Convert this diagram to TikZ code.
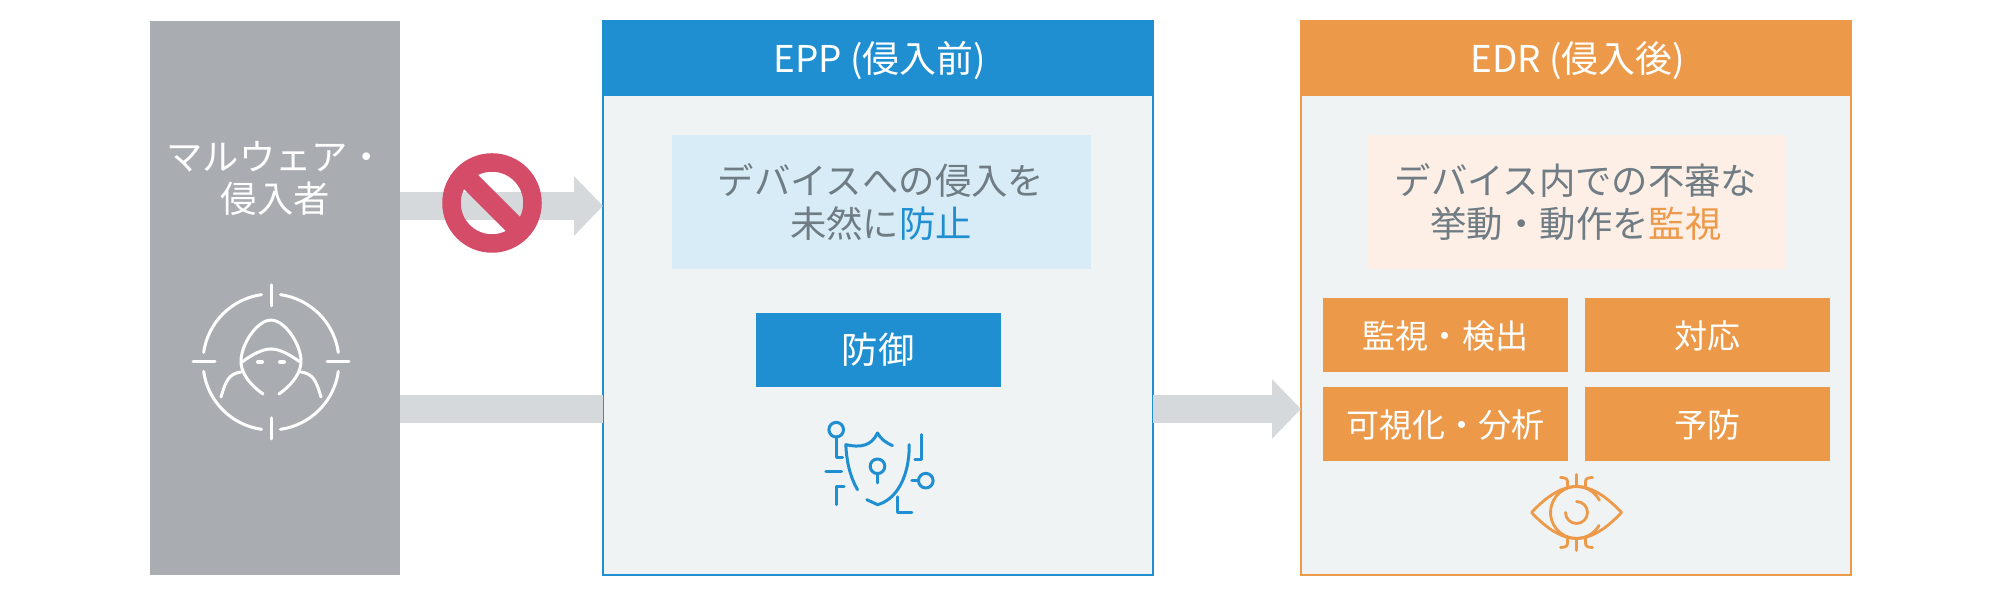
\documentclass[tikz,border=0pt]{standalone}
\usepackage{fontspec}
\setmainfont{Noto Sans CJK JP}
\usetikzlibrary{arrows.meta}
\definecolor{eppblue}{HTML}{1F8FD2}
\definecolor{edrorange}{HTML}{EC9A4A}
\definecolor{intrudergray}{HTML}{A9ACB1}
\definecolor{panelfill}{HTML}{EFF3F4}
\definecolor{flowgray}{HTML}{D6D9DC}
\definecolor{stopred}{HTML}{D54C69}
\definecolor{eppnote}{HTML}{D8ECF7}
\definecolor{edrnote}{HTML}{FDEFE6}
\definecolor{notetext}{HTML}{6F7C84}
\tikzset{
	bodytext/.style={font={\fontsize{10.35pt}{12.2pt}\selectfont\lineskiplimit=-10pt\relax}, align=center, inner sep=0pt, outer sep=0pt},
	mainbox/.style={draw=#1, fill=panelfill, line width=0.02cm, minimum width=5.5cm, minimum height=5.54cm, inner sep=0pt, outer sep=0pt},
	headbox/.style={fill=#1, text=white, bodytext, font=\fontsize{10.5pt}{12pt}\selectfont, text height=0.36cm, text depth=0.08cm, minimum width=5.52cm, minimum height=0.75cm},
	notebox/.style={fill=#1, text=notetext, bodytext, minimum width=4.19cm, minimum height=1.34cm},
	actbox/.style={fill=#1, text=white, bodytext, text height=0.34cm, text depth=0.07cm, minimum width=2.45cm, minimum height=0.74cm},
	smallact/.style={actbox=#1, font=\fontsize{9.4pt}{12pt}\selectfont},
	flowarrow/.style={draw=flowgray, line width=0.28cm, -{Triangle[length=0.29cm, width=0.58cm]}},
	flowbar/.style={draw=flowgray, line width=0.28cm},
	iconline/.style={line width=0.03cm, line cap=round, line join=round}
}
\begin{document}
\begin{tikzpicture}
	\useasboundingbox (0,0) rectangle (20,5.96);
	\coordinate (flowtop) at (0,3.90);
	\coordinate (flowlow) at (0,1.87);

	% panels
	\node[fill=intrudergray, minimum width=2.5cm, minimum height=5.54cm, outer sep=0pt] (intruder) at (2.75,2.975) {};
	\node[mainbox=eppblue] (eppbox) at (8.78,2.975) {};
	\node[mainbox=edrorange] (edrbox) at (15.76,2.975) {};

	% arrows
	\draw[flowarrow] (intruder.east |- flowtop) -- (eppbox.west |- flowtop);
	\draw[flowbar] (intruder.east |- flowlow) -- (eppbox.west |- flowlow);
	\draw[flowarrow] (eppbox.east |- flowlow) -- (edrbox.west |- flowlow);

	% stop mark
	\node[circle, draw=stopred, line width=0.185cm, minimum size=0.81cm, inner sep=0pt] (stopmark) at (4.92,3.93) {};
	\draw[stopred, line width=0.2cm, shorten <=0.1cm, shorten >=0.1cm] (stopmark.135) -- (stopmark.-45);

	% left panel
	\node[bodytext, text=white] (intrudertext) at (2.755,4.175) {マルウェア・\\侵入者};

	% EPP
	\node[headbox=eppblue] (epphead) at (8.78,5.375) {\hspace{0.03cm}EPP (侵入前)};
	\node[notebox=eppnote] (eppnote) at (8.81,3.94) {デバイスへの侵入を\\未然に{\color{eppblue}防止}};
	\node[actbox=eppblue] (eppact) at (8.78,2.46) {防御};

	% EDR
	\node[headbox=edrorange] (edrhead) at (15.76,5.375) {\hspace{0.03cm}EDR (侵入後)};
	\node[notebox=edrnote] (edrnote) at (15.76,3.94) {デバイス内での不審な\\挙動・動作を{\color{edrorange}監視}};
	\node[smallact=edrorange] (edract1) at (14.455,2.61) {監視・検出};
	\node[smallact=edrorange] (edract2) at (17.075,2.61) {対応};
	\node[smallact=edrorange] (edract3) at (14.455,1.72) {可視化・分析};
	\node[smallact=edrorange] (edract4) at (17.075,1.72) {予防};

	% hooded figure
	\begin{scope}[shift={(2.71,2.34)}, iconline, draw=white]
		\draw (8:0.68) arc (8:82:0.68);
		\draw (98:0.68) arc (98:172:0.68);
		\draw (188:0.68) arc (188:262:0.68);
		\draw (278:0.68) arc (278:352:0.68);
		\draw (0,0.77) -- (0,0.56);
		\draw (0,-0.77) -- (0,-0.56);
		\draw (-0.78,0) -- (-0.56,0);
		\draw (0.78,0) -- (0.56,0);
		\draw (-0.08,-0.32) .. controls (-0.22,-0.22) and (-0.31,-0.1) .. (-0.30,0.03)
			.. controls (-0.28,0.22) and (-0.12,0.42) .. (0,0.42)
			.. controls (0.12,0.42) and (0.28,0.22) .. (0.30,0.03)
			.. controls (0.31,-0.1) and (0.22,-0.22) .. (0.08,-0.32);
		\draw (-0.29,0) .. controls (-0.18,0.08) and (-0.08,0.13) .. (0,0.13)
			.. controls (0.08,0.13) and (0.18,0.08) .. (0.29,0);
		\draw (-0.50,-0.35) .. controls (-0.45,-0.18) and (-0.42,-0.12) .. (-0.30,-0.10);
		\draw (0.50,-0.35) .. controls (0.45,-0.18) and (0.42,-0.12) .. (0.30,-0.10);
		\draw[line width=0.04cm] (-0.13,0) -- (-0.09,0);
		\draw[line width=0.04cm] (0.13,0) -- (0.09,0);
	\end{scope}

	% shield
	\begin{scope}[shift={(8.775,1.28)}, iconline, draw=eppblue]
		\draw (-0.20,-0.217) .. controls (-0.28,-0.08) and (-0.31,0.08) .. (-0.317,0.233)
			.. controls (-0.17,0.2) and (-0.06,0.22) .. (0,0.35)
			.. controls (0.03,0.29) and (0.09,0.25) .. (0.15,0.223);
		\draw (0.317,0.233) .. controls (0.32,-0.1) and (0.18,-0.32) .. (0,-0.367)
			-- (-0.107,-0.317);
		\draw (0,0.017) circle (0.073);
		\draw (0,-0.056) -- (0,-0.15);
		\draw (-0.413,0.383) circle (0.073);
		\draw (-0.413,0.31) -- (-0.413,0.107) -- (-0.35,0.107);
		\draw (0.44,0.333) -- (0.44,0.08) -- (0.373,0.08);
		\draw (-0.517,-0.033) -- (-0.36,-0.033);
		\draw (-0.333,-0.183) -- (-0.413,-0.183) -- (-0.413,-0.367);
		\draw (0.483,-0.127) circle (0.073);
		\draw (0.343,-0.123) -- (0.41,-0.123);
		\draw (0.203,-0.29) -- (0.203,-0.45) -- (0.343,-0.45);
	\end{scope}

	% eye
	\begin{scope}[shift={(15.765,0.835)}, iconline, line width=0.028cm, draw=edrorange]
		\draw (-0.45,0) .. controls (-0.3,0.16) and (-0.15,0.26) .. (0,0.26)
			.. controls (0.15,0.26) and (0.3,0.16) .. (0.45,0)
			.. controls (0.3,-0.16) and (0.15,-0.26) .. (0,-0.26)
			.. controls (-0.15,-0.26) and (-0.3,-0.16) .. (-0.45,0) -- cycle;
		\draw (28:0.26) arc (28:330:0.26);
		\draw (0,0.11) arc (90:-180:0.11);
		\draw (0,0.26) -- (0,0.38);
		\draw (0,-0.26) -- (0,-0.38);
		\draw (-0.09,0.26) -- (-0.09,0.31) .. controls (-0.09,0.34) and (-0.12,0.35) .. (-0.16,0.35);
		\draw (0.09,0.26) -- (0.09,0.31) .. controls (0.09,0.34) and (0.12,0.35) .. (0.16,0.35);
		\draw (-0.09,-0.26) -- (-0.09,-0.31) .. controls (-0.09,-0.34) and (-0.12,-0.35) .. (-0.16,-0.35);
		\draw (0.09,-0.26) -- (0.09,-0.31) .. controls (0.09,-0.34) and (0.12,-0.35) .. (0.16,-0.35);
	\end{scope}
\end{tikzpicture}
\end{document}
